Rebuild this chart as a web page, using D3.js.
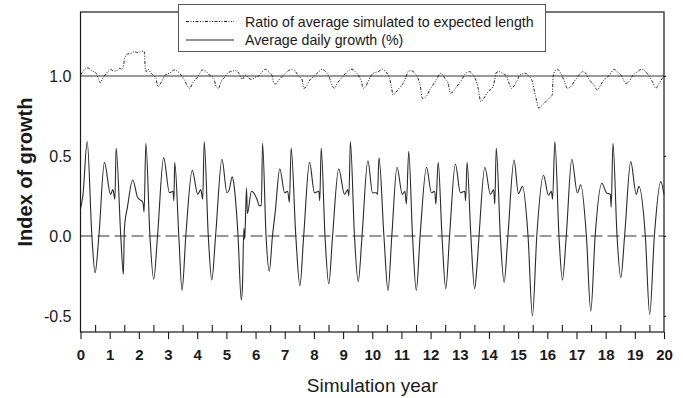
<!DOCTYPE html>
<html>
<head>
<meta charset="utf-8">
<script src="https://cdn.jsdelivr.net/npm/d3@7"></script>
<style>
  html, body { margin: 0; padding: 0; background: #fff; }
  svg { display: block; font-family: "Liberation Sans", Arial, sans-serif; }
</style>
</head>
<body>
<svg id="chart" width="683" height="398"></svg>
<script>
// ---------- data ----------
const growthYears = [
  0.00,0.08,0.23,0.39,0.50,0.63,0.82,1.03,1.11,1.18,1.22,1.38,1.47,1.50,1.52,1.60,1.79,1.96,2.14,2.18,
  2.24,2.38,2.51,2.64,2.85,3.05,3.17,3.20,3.23,3.37,3.48,3.61,3.83,4.02,4.12,4.19,4.24,4.38,4.50,4.63,
  4.85,5.02,5.10,5.20,5.26,5.40,5.51,5.55,5.60,5.63,5.69,5.72,5.86,6.05,6.13,6.20,6.24,6.36,6.47,6.58,
  6.68,6.83,7.00,7.10,7.16,7.22,7.38,7.52,7.65,7.85,8.02,8.17,8.20,8.25,8.38,8.51,8.64,8.85,9.05,9.16,
  9.20,9.25,9.39,9.52,9.65,9.85,10.01,10.14,10.18,10.23,10.40,10.54,10.67,10.85,11.03,11.12,11.17,11.25,11.38,11.51,
  11.64,11.86,12.03,12.14,12.18,12.26,12.39,12.52,12.65,12.85,13.02,13.17,13.20,13.25,13.38,13.51,13.59,13.66,13.86,14.05,
  14.16,14.20,14.25,14.39,14.52,14.65,14.86,15.01,15.15,15.34,15.49,15.64,15.87,16.04,16.14,16.18,16.26,16.40,16.52,16.65,
  16.84,17.03,17.15,17.34,17.49,17.64,17.87,18.03,18.16,18.19,18.25,18.39,18.52,18.65,18.86,19.05,19.14,19.36,19.51,19.67,
  19.89,20.00
];
const growthValues = [
  0.17,0.25,0.59,0.00,-0.23,0.00,0.46,0.26,0.29,0.23,0.55,0.00,-0.24,0.02,0.08,0.17,0.35,0.24,0.21,0.15,
  0.58,0.00,-0.27,0.00,0.49,0.27,0.28,0.22,0.46,0.00,-0.34,0.00,0.41,0.26,0.29,0.23,0.59,0.00,-0.275,0.00,
  0.48,0.27,0.29,0.37,0.32,0.00,-0.40,-0.32,0.05,-0.02,0.30,0.14,0.28,0.23,0.19,0.19,0.58,0.00,-0.22,0.00,
  0.16,0.42,0.27,0.28,0.21,0.55,0.00,-0.31,0.00,0.46,0.27,0.28,0.22,0.55,0.00,-0.30,0.00,0.42,0.26,0.29,
  0.25,0.59,0.00,-0.285,0.00,0.47,0.27,0.27,0.26,0.49,0.00,-0.34,0.00,0.43,0.26,0.28,0.20,0.53,0.00,-0.34,
  0.00,0.43,0.27,0.28,0.20,0.46,0.00,-0.33,0.00,0.45,0.27,0.28,0.22,0.46,0.00,-0.33,-0.19,0.00,0.43,0.26,
  0.29,0.20,0.55,0.00,-0.29,0.00,0.475,0.265,0.31,0.00,-0.50,0.00,0.38,0.255,0.28,0.23,0.59,0.00,-0.275,0.00,
  0.48,0.27,0.32,0.00,-0.47,0.00,0.33,0.27,0.26,0.18,0.58,0.00,-0.26,0.00,0.465,0.26,0.31,0.00,-0.49,0.00,
  0.34,0.26
];

const ratioYears = [
  0.00,0.14,0.25,0.42,0.54,0.62,0.68,0.76,0.94,1.05,1.11,1.22,1.34,1.42,1.47,1.51,1.62,1.74,1.85,1.96,
  2.08,2.17,2.19,2.22,2.25,2.31,2.42,2.59,2.65,2.71,2.82,2.90,3.05,3.22,3.34,3.45,3.56,3.68,3.74,3.85,
  4.02,4.19,4.31,4.42,4.57,4.65,4.73,4.82,4.94,5.03,5.14,5.31,5.43,5.54,5.65,5.77,5.88,5.99,6.11,6.23,
  6.34,6.45,6.57,6.62,6.68,6.80,6.91,7.08,7.25,7.37,7.48,7.60,7.65,7.74,7.86,7.99,8.17,8.28,8.40,8.54,
  8.62,8.70,8.80,8.97,9.14,9.31,9.42,9.54,9.62,9.69,9.77,9.88,10.03,10.20,10.35,10.46,10.58,10.66,10.71,10.80,
  10.92,11.06,11.15,11.26,11.34,11.46,11.57,11.65,11.72,11.86,11.97,12.08,12.20,12.34,12.49,12.60,12.68,12.77,12.89,13.06,
  13.23,13.34,13.46,13.55,13.63,13.72,13.82,13.97,14.14,14.20,14.25,14.35,14.46,14.60,14.69,14.77,14.88,15.00,15.03,15.24,
  15.37,15.49,15.55,15.63,15.71,15.77,15.89,16.00,16.12,16.17,16.20,16.27,16.35,16.46,16.57,16.69,16.80,16.92,17.09,17.20,
  17.32,17.43,17.60,17.71,17.83,17.94,18.06,18.17,18.29,18.40,18.55,18.69,18.80,18.92,19.09,19.24,19.37,19.49,19.60,19.72,
  19.83,19.94,20.00
];
const ratioValues = [
  1.006,1.040,1.050,1.030,1.017,0.979,0.958,0.985,1.027,1.040,1.033,1.031,1.048,1.042,1.058,1.110,1.138,1.142,1.152,1.146,
  1.152,1.156,1.152,1.048,1.027,1.042,1.017,0.985,0.933,0.944,0.979,1.006,1.017,1.038,1.027,1.006,0.975,0.933,0.923,0.958,
  0.996,1.038,1.027,1.006,0.985,0.933,0.923,0.965,0.992,1.017,1.027,1.033,1.017,0.979,1.006,0.985,0.979,0.992,1.000,1.027,
  1.042,1.027,1.000,0.958,0.950,0.975,0.996,1.027,1.042,1.027,1.000,0.975,0.923,0.933,0.975,0.996,1.027,1.042,1.027,0.985,
  0.944,0.923,0.954,0.992,1.027,1.042,1.027,1.000,0.971,0.923,0.933,0.975,1.017,1.027,1.042,1.027,0.992,0.933,0.881,0.896,
  0.923,0.954,0.992,1.033,1.033,1.017,0.985,0.933,0.860,0.875,0.913,0.944,0.979,1.017,0.985,0.954,0.892,0.902,0.933,0.975,
  1.021,1.027,1.006,0.975,0.923,0.840,0.860,0.902,0.933,0.979,1.021,1.027,1.017,1.000,0.954,0.923,0.944,0.985,1.000,1.017,
  1.000,0.965,0.913,0.850,0.798,0.808,0.829,0.850,0.871,0.881,0.996,1.033,1.042,1.017,0.975,0.923,0.933,0.965,1.006,1.027,
  1.017,0.979,0.944,0.913,0.944,0.975,0.992,1.017,1.042,1.027,1.000,0.954,0.965,1.000,1.027,1.042,1.027,1.000,0.965,0.923,
  0.954,0.985,1.000
];

const xTickValues = d3.range(0, 21, 1);
const xMinorTicks = d3.range(0.5, 20, 1);
const yTickValues = [-0.5, 0.0, 0.5, 1.0];
const yTickLabels = ["-0.5", "0.0", "0.5", "1.0"];
const legendLabels = ["Ratio of average simulated to expected length", "Average daily growth (%)"];
const xTitle = "Simulation year";
const yTitle = "Index of growth";

// ---------- layout ----------
const svg = d3.select("#chart");
const L = 80.5, R = 664, T = 12, B = 332;
const x = d3.scaleLinear().domain([0, 20]).range([L, R]);
const y = d3.scaleLinear().domain([-0.6, 1.4]).range([B, T]);
const ink = "#1a1a1a";

// reference lines
svg.append("line")
  .attr("x1", x(0)).attr("x2", x(20)).attr("y1", y(1)).attr("y2", y(1))
  .attr("stroke", "#333").attr("stroke-width", 1.1);
svg.append("line")
  .attr("x1", x(0)).attr("x2", x(20)).attr("y1", y(0)).attr("y2", y(0))
  .attr("stroke", "#777").attr("stroke-width", 1.5).attr("stroke-dasharray", "12,5");

// series
const growth = growthYears.map((t, i) => [t, growthValues[i]]);
const ratio = ratioYears.map((t, i) => [t, ratioValues[i]]);
const line = d3.line().x(d => x(d[0])).y(d => y(d[1])).curve(d3.curveMonotoneX);

svg.append("path").datum(growth).attr("d", line)
  .attr("fill", "none").attr("stroke", "#2a2a2a").attr("stroke-width", 1.1);
svg.append("path").datum(ratio).attr("d", line)
  .attr("fill", "none").attr("stroke", "#222").attr("stroke-width", 1)
  .attr("stroke-dasharray", "3,1.5,1,1.5,1,1.5");

// frame
svg.append("rect").attr("x", L).attr("y", T).attr("width", R - L).attr("height", B - T)
  .attr("fill", "none").attr("stroke", ink).attr("stroke-width", 1.2);

// x axis
const xAxis = d3.axisBottom(x).tickValues(xTickValues).tickSize(7).tickPadding(10)
  .tickFormat(d3.format("d"));
const gx = svg.append("g").attr("transform", `translate(0,${B})`).call(xAxis);
gx.select(".domain").remove();
gx.selectAll("line").attr("stroke", ink).attr("stroke-width", 1.1);
gx.selectAll("text").attr("fill", ink).attr("font-size", 15).attr("font-weight", "bold")
  .attr("font-family", "'Liberation Sans', Arial, sans-serif");

const xMinor = d3.axisTop(x).tickValues(xMinorTicks).tickSize(7).tickFormat("");
const gxm = svg.append("g").attr("transform", `translate(0,${B})`).call(xMinor);
gxm.select(".domain").remove();
gxm.selectAll("line").attr("stroke", ink).attr("stroke-width", 1.1);

// y axis (labels only on left)
const yAxis = d3.axisLeft(y).tickValues(yTickValues).tickSize(0).tickPadding(9)
  .tickFormat((d, i) => yTickLabels[i]);
const gy = svg.append("g").attr("transform", `translate(${L},0)`).call(yAxis);
gy.select(".domain").remove();
gy.selectAll("text").attr("fill", ink).attr("font-size", 16)
  .attr("font-family", "'Liberation Sans', Arial, sans-serif");

// small right-side ticks
const yRight = d3.axisRight(y).tickValues(yTickValues).tickSize(2).tickFormat("");
const gyr = svg.append("g").attr("transform", `translate(${R},0)`).call(yRight);
gyr.select(".domain").remove();
gyr.selectAll("line").attr("stroke", ink);

// titles
svg.append("text").attr("x", (L + R) / 2).attr("y", 392).attr("text-anchor", "middle")
  .attr("font-size", 19).attr("fill", ink).text(xTitle);
svg.append("text").attr("transform", `translate(32,${(T + B) / 2}) rotate(-90)`)
  .attr("text-anchor", "middle").attr("font-size", 20).attr("font-weight", "bold")
  .attr("fill", ink).text(yTitle);

// legend
const lg = svg.append("g");
lg.append("rect").attr("x", 178.5).attr("y", 4.5).attr("width", 367).attr("height", 47)
  .attr("fill", "#fff").attr("stroke", "#555").attr("stroke-width", 1);
lg.append("line").attr("x1", 186).attr("x2", 234).attr("y1", 21.5).attr("y2", 21.5)
  .attr("stroke", "#222").attr("stroke-width", 1).attr("stroke-dasharray", "3,1.5,1,1.5,1,1.5");
lg.append("line").attr("x1", 186).attr("x2", 234).attr("y1", 40).attr("y2", 40)
  .attr("stroke", "#2a2a2a").attr("stroke-width", 1.1);
lg.append("text").attr("x", 245).attr("y", 26.5).attr("font-size", 14.2).attr("fill", ink).text(legendLabels[0]);
lg.append("text").attr("x", 245).attr("y", 44.5).attr("font-size", 14.2).attr("fill", ink).text(legendLabels[1]);
</script>
</body>
</html>
